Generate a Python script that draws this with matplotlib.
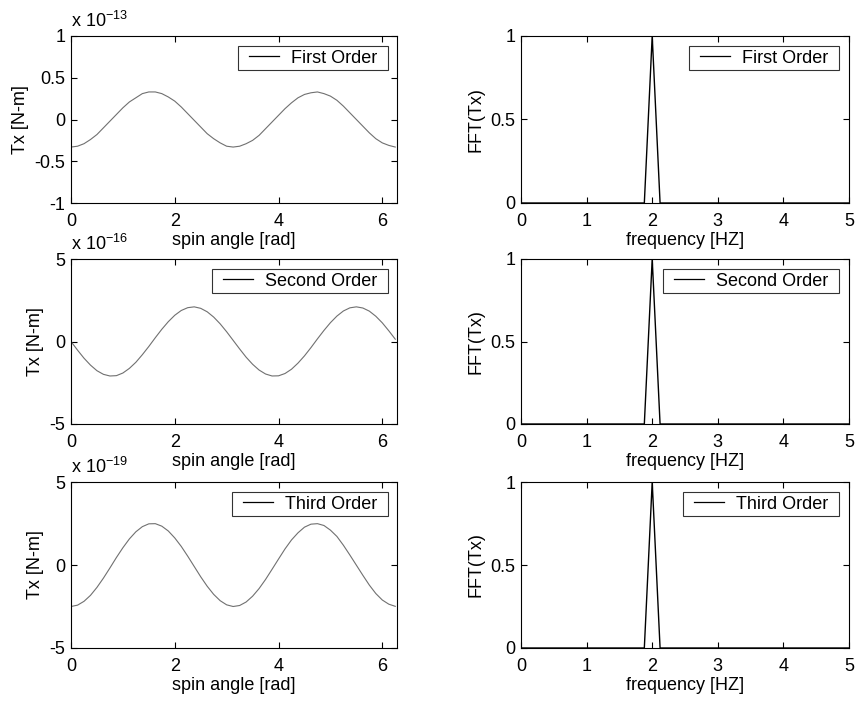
import matplotlib
matplotlib.use("Agg")
import matplotlib.pyplot as plt
from matplotlib.ticker import FormatStrFormatter, FixedLocator
from matplotlib.transforms import offset_copy
from matplotlib.legend_handler import HandlerLine2D
from matplotlib.lines import Line2D

plt.rcParams['font.family'] = ['Liberation Sans', 'DejaVu Sans']
plt.rcParams['mathtext.default'] = 'regular'
plt.rcParams['axes.unicode_minus'] = False

# spin angle samples [rad], every 0.125 rad
spin_angle = [k * 0.125 for k in range(51)]

# torque Tx, first order (x 1e-13 N-m)
tx_first = [-0.33, -0.32, -0.29, -0.24, -0.18, -0.10, -0.02, 0.06, 0.14, 0.21, 0.26, 0.31, 0.33,
            0.33, 0.31, 0.27, 0.22, 0.15, 0.07, -0.01, -0.09, -0.17, -0.23, -0.28, -0.32, -0.33,
            -0.32, -0.29, -0.25, -0.19, -0.11, -0.03, 0.05, 0.13, 0.20, 0.26, 0.30, 0.32, 0.33,
            0.31, 0.28, 0.23, 0.16, 0.08, 0.00, -0.08, -0.16, -0.23, -0.28, -0.31, -0.33]
# torque Tx, second order (x 1e-16 N-m)
tx_second = [0.00, -0.52, -1.01, -1.43, -1.77, -1.99, -2.09, -2.07, -1.91, -1.63, -1.26, -0.80, -0.30,
             0.23, 0.74, 1.20, 1.59, 1.88, 2.05, 2.10, 2.01, 1.80, 1.48, 1.07, 0.59, 0.07,
             -0.45, -0.95, -1.38, -1.73, -1.97, -2.09, -2.08, -1.94, -1.68, -1.31, -0.87, -0.37, 0.16,
             0.67, 1.14, 1.54, 1.85, 2.04, 2.10, 2.03, 1.84, 1.53, 1.13, 0.65, 0.14]
# torque Tx, third order (x 1e-19 N-m)
tx_third = [-2.50, -2.42, -2.19, -1.83, -1.35, -0.79, -0.18, 0.45, 1.04, 1.57, 2.00, 2.31, 2.48,
            2.49, 2.34, 2.05, 1.63, 1.12, 0.53, -0.09, -0.71, -1.28, -1.77, -2.15, -2.40, -2.50,
            -2.44, -2.23, -1.88, -1.42, -0.87, -0.26, 0.36, 0.97, 1.51, 1.94, 2.28, 2.46, 2.49,
            2.38, 2.10, 1.72, 1.19, 0.60, -0.01, -0.62, -1.21, -1.72, -2.11, -2.36, -2.49]

# normalised spectrum of Tx
freq = [0.0, 1.88, 2.0, 2.12, 5.0]
fft_first = [0.0, 0.0, 1.0, 0.0, 0.0]
fft_second = [0.0, 0.0, 1.0, 0.0, 0.0]
fft_third = [0.0, 0.0, 1.0, 0.0, 0.0]

labels = ["First Order", "Second Order", "Third Order"]
exponents = ["-13", "-16", "-19"]
torques = [tx_first, tx_second, tx_third]
spectra = [fft_first, fft_second, fft_third]
ylims = [(-1, 1), (-5, 5), (-5, 5)]
yticks = [[-1, -0.5, 0, 0.5, 1], [-5, 0, 5], [-5, 0, 5]]

W, H = 856, 702
fig = plt.figure(figsize=(W / 100, H / 100), dpi=100)

rows = [(36, 203), (259, 424), (482, 648)]
left_x = (71, 397)
right_x = (521, 849)

FS = 13


def style(ax):
    ax.tick_params(direction='in', length=4, width=0.8, top=True, right=True,
                   labelsize=FS, colors='black')
    ax.tick_params(axis='x', pad=7)
    ax.tick_params(axis='y', pad=4)
    for s in ax.spines.values():
        s.set_linewidth(0.8)
    ax.yaxis.set_major_formatter(FormatStrFormatter('%g'))
    ax.xaxis.set_major_formatter(FormatStrFormatter('%g'))


def add_legend(ax, label, dx, dy):
    # legend box with wider horizontal padding than vertical
    handle = Line2D([], [], color='black', lw=0.9)
    anchor = offset_copy(ax.transAxes, fig=fig, x=-dx, y=-dy, units='dots')
    leg = ax.legend([handle], [label], loc='upper right', bbox_to_anchor=(1, 1),
                    bbox_transform=anchor, borderaxespad=0, fontsize=FS, frameon=True,
                    fancybox=False, handlelength=1.7, borderpad=0.15, handletextpad=0.65)
    frame = leg.get_frame()
    frame.set_edgecolor('black')
    frame.set_linewidth(0.8)
    frame.set_boxstyle('square', pad=0.45)
    frame.set_mutation_aspect(0.08)
    return leg


for i, (top, bot) in enumerate(rows):
    # time-domain torque
    ax = fig.add_axes([left_x[0] / W, 1 - bot / H, (left_x[1] - left_x[0]) / W, (bot - top) / H])
    ax.plot(spin_angle, torques[i], color='#707070', lw=0.8)
    ax.set_xlim(0, 6.2832)
    ax.set_ylim(*ylims[i])
    ax.xaxis.set_major_locator(FixedLocator([0, 2, 4, 6]))
    ax.yaxis.set_major_locator(FixedLocator(yticks[i]))
    style(ax)
    ax.set_xlabel("spin angle [rad]", fontsize=FS, labelpad=2)
    ax.set_ylabel("Tx [N-m]", fontsize=FS, labelpad=4)
    ax.text(0.0, 1.03, "x 10$^{" + exponents[i] + "}$", transform=ax.transAxes,
            fontsize=FS, ha='left', va='bottom')
    add_legend(ax, labels[i], 17, 11)

    # spectrum
    ax2 = fig.add_axes([right_x[0] / W, 1 - bot / H, (right_x[1] - right_x[0]) / W, (bot - top) / H])
    ax2.plot(freq, spectra[i], color='black', lw=1.0)
    ax2.set_xlim(0, 5)
    ax2.set_ylim(0, 1)
    ax2.xaxis.set_major_locator(FixedLocator([0, 1, 2, 3, 4, 5]))
    ax2.yaxis.set_major_locator(FixedLocator([0, 0.5, 1]))
    style(ax2)
    ax2.set_xlabel("frequency [HZ]", fontsize=FS, labelpad=2)
    ax2.set_ylabel("FFT(Tx)", fontsize=FS, labelpad=4)
    add_legend(ax2, labels[i], 18, 11)

fig.savefig("out.png", dpi=100)
